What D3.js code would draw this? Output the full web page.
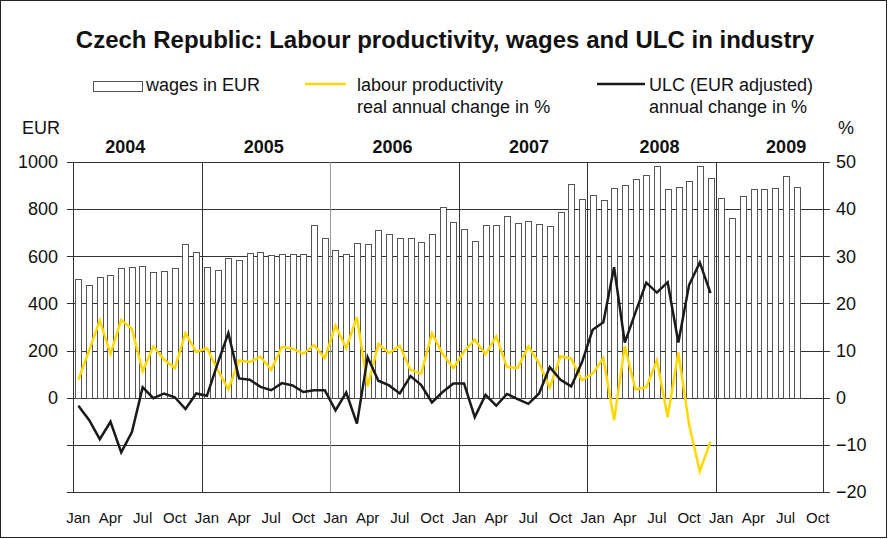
<!DOCTYPE html>
<html>
<head>
<meta charset="utf-8">
<script src="https://cdn.jsdelivr.net/npm/d3@7"></script>
<style>
	body { margin: 0; background: #ffffff; }
	svg text { font-family: Arial, "Liberation Sans", sans-serif; fill: #111111; }
</style>
</head>
<body>
<svg id="chart" width="888" height="539"></svg>
<script>

// ---- data ---------------------------------------------------------------

var g_vsYears = ["2004", "2005", "2006", "2007", "2008", "2009"];
var g_vsMonths = ["Jan", "Feb", "Mar", "Apr", "May", "Jun", "Jul", "Aug", "Sep", "Oct", "Nov", "Dec"];
var g_vsMonthTicks = ["Jan", "Apr", "Jul", "Oct"];

var g_nMonthCount = 70; // Jan 2004 .. Oct 2009

// wages in EUR, Jan 2004 ..
var g_vfWages = [
	502, 477, 511, 519, 549, 556, 560, 532, 539, 552, 651, 617,
	556, 543, 591, 583, 615, 618, 604, 608, 611, 611, 732, 676,
	628, 608, 655, 651, 710, 694, 676, 676, 659, 693, 809, 747,
	715, 665, 731, 731, 769, 741, 748, 738, 730, 789, 907, 845,
	859, 837, 889, 903, 926, 943, 985, 884, 892, 920, 985, 934,
	848, 761, 855, 884, 884, 889, 941, 892
];

// labour productivity, real annual change in %
var g_vfProductivity = [
	3.8, 10.0, 16.4, 9.3, 16.5, 14.6, 5.6, 10.9, 8.1, 6.3, 13.7, 9.7,
	10.5, 5.9, 1.8, 7.9, 7.6, 8.7, 5.9, 10.8, 10.4, 9.3, 11.2, 8.4,
	15.3, 10.5, 17.1, 2.4, 11.4, 9.5, 11.0, 5.9, 5.1, 13.7, 9.3, 6.3,
	9.8, 12.3, 9.2, 13.0, 6.5, 6.3, 10.9, 7.3, 2.2, 8.8, 8.3, 3.7,
	5.1, 8.4, -4.8, 10.9, 1.8, 2.2, 7.9, -4.1, 9.6, -5.7, -15.6, -9.3
];

// ULC (EUR adjusted), annual change in %
var g_vfULC = [
	-1.7, -4.7, -8.8, -5.1, -11.6, -7.3, 2.2, -0.1, 0.9, 0.1, -2.4, 0.9,
	0.4, 7.3, 13.7, 4.1, 3.8, 2.3, 1.6, 3.1, 2.6, 1.2, 1.6, 1.6,
	-2.7, 1.1, -5.5, 8.6, 3.6, 2.6, 0.9, 4.6, 2.7, -1.0, 1.2, 3.0,
	3.0, -4.1, 0.6, -1.7, 0.8, -0.3, -1.3, 0.9, 6.5, 3.8, 2.4, 7.5,
	14.4, 16.0, 27.7, 11.7, 18.1, 24.4, 22.3, 24.5, 11.7, 23.9, 28.7, 22.2
];

var g_vfLeftTicks = [0, 200, 400, 600, 800, 1000];
var g_vfRightTicks = [-20, -10, 0, 10, 20, 30, 40, 50];

// ---- layout -------------------------------------------------------------

var g_colorBarStroke = "#555555";
var g_colorGrid = "#333333";
var g_colorProductivity = "#FFD800";
var g_colorULC = "#1a1a1a";

var nLeft = 73, nRight = 823, nTop = 162, nBottom = 492;

var g_domSVGMain = d3.select("#chart");

var vnMonthIdx = d3.range(g_nMonthCount);

var funcScaleX = d3.scaleBand()
					.domain(vnMonthIdx)
					.range([nLeft, nRight])
					.paddingInner(0.45)
					.paddingOuter(0.2);

var funcScaleXStep = d3.scaleLinear()
					.domain([0, g_nMonthCount])
					.range([nLeft, nRight]);

var funcScaleEUR = d3.scaleLinear().domain([-400, 1000]).range([nBottom, nTop]);
var funcScalePct = d3.scaleLinear().domain([-20, 50]).range([nBottom, nTop]);

function funcMid(i) { return funcScaleXStep(i + 0.5); }

// ---- frame and title -------------------------------------------------------

g_domSVGMain.append("rect")
		.attr("x", 0.5).attr("y", 0.5)
		.attr("width", 886).attr("height", 537)
		.attr("fill", "none")
		.attr("stroke", "#222222")
		.attr("stroke-width", 1);

g_domSVGMain.append("text")
		.attr("x", 445)
		.attr("y", 48)
		.attr("text-anchor", "middle")
		.attr("font-size", "24px")
		.attr("font-weight", "bold")
		.text("Czech Republic: Labour productivity, wages and ULC in industry");

// ---- legend ---------------------------------------------------------------

var domLegend = g_domSVGMain.append("g").attr("font-size", "18px");

domLegend.append("rect")
		.attr("x", 93.5).attr("y", 81.5)
		.attr("width", 49).attr("height", 10)
		.attr("fill", "#ffffff")
		.attr("stroke", g_colorBarStroke);
domLegend.append("text").attr("x", 146).attr("y", 91).text("wages in EUR");

domLegend.append("line")
		.attr("x1", 305).attr("x2", 346).attr("y1", 84).attr("y2", 84)
		.attr("stroke", g_colorProductivity).attr("stroke-width", 2.5);
domLegend.append("text").attr("x", 357).attr("y", 91).text("labour productivity");
domLegend.append("text").attr("x", 357).attr("y", 113).text("real annual change in %");

domLegend.append("line")
		.attr("x1", 597).attr("x2", 645).attr("y1", 84).attr("y2", 84)
		.attr("stroke", g_colorULC).attr("stroke-width", 2.5);
domLegend.append("text").attr("x", 649).attr("y", 91).text("ULC (EUR adjusted)");
domLegend.append("text").attr("x", 649).attr("y", 113).text("annual change in %");

g_domSVGMain.append("text").attr("x", 22).attr("y", 134).attr("font-size", "18px").text("EUR");
g_domSVGMain.append("text").attr("x", 838).attr("y", 134).attr("font-size", "18px").text("%");

// ---- grid -----------------------------------------------------------------

g_domSVGMain.append("g")
		.selectAll("line.grid")
		.data(g_vfRightTicks)
		.enter()
		.append("line")
			.attr("class", "grid")
			.attr("x1", nLeft - 6)
			.attr("x2", nRight + 7)
			.attr("y1", function(d) { return Math.round(funcScalePct(d)) + 0.5; })
			.attr("y2", function(d) { return Math.round(funcScalePct(d)) + 0.5; })
			.attr("stroke", g_colorGrid)
			.attr("stroke-width", 1);

// ---- wage bars ----------------------------------------------------------

g_domSVGMain.append("g")
		.selectAll("rect.wage")
		.data(g_vfWages)
		.enter()
		.append("rect")
			.attr("class", "wage")
			.attr("x", function(d, i) { return Math.round(funcScaleX(i)) + 0.5; })
			.attr("y", function(d) { return Math.round(funcScaleEUR(d)) + 0.5; })
			.attr("width", Math.round(funcScaleX.bandwidth()))
			.attr("height", function(d) { return Math.round(funcScaleEUR(0)) - Math.round(funcScaleEUR(d)); })
			.attr("fill", "#ffffff")
			.attr("stroke", g_colorBarStroke)
			.attr("stroke-width", 1);

// ---- axes and year separators ---------------------------------------------

var vnYearStart = g_vsYears.map(function(d, i) { return i * 12; });

g_domSVGMain.append("g")
		.selectAll("line.year")
		.data(vnYearStart)
		.enter()
		.append("line")
			.attr("class", "year")
			.attr("x1", function(d) { return Math.round(funcScaleXStep(d)) + 0.5; })
			.attr("x2", function(d) { return Math.round(funcScaleXStep(d)) + 0.5; })
			.attr("y1", nTop)
			.attr("y2", nBottom)
			.attr("stroke", function(d, i) { return i == 2 ? "#9a9a9a" : g_colorGrid; })
			.attr("stroke-width", 1);

g_domSVGMain.append("line")
		.attr("x1", nRight + 0.5).attr("x2", nRight + 0.5)
		.attr("y1", nTop).attr("y2", nBottom)
		.attr("stroke", g_colorGrid);

var axisLeft = d3.axisLeft(funcScaleEUR)
					.tickValues(g_vfLeftTicks)
					.tickFormat(d3.format("d"))
					.tickSize(0)
					.tickPadding(15);

g_domSVGMain.append("g")
		.attr("transform", "translate(" + nLeft + ",0)")
		.call(axisLeft)
		.call(function(g) { g.select(".domain").remove(); })
		.selectAll("text")
			.attr("font-size", "18px")
			.attr("font-family", "Arial, 'Liberation Sans', sans-serif")
			.attr("fill", "#111111");

var axisRight = d3.axisRight(funcScalePct)
					.tickValues(g_vfRightTicks)
					.tickFormat(d3.format("d"))
					.tickSize(0)
					.tickPadding(13);

g_domSVGMain.append("g")
		.attr("transform", "translate(" + nRight + ",0)")
		.call(axisRight)
		.call(function(g) { g.select(".domain").remove(); })
		.selectAll("text")
			.attr("font-size", "18px")
			.attr("font-family", "Arial, 'Liberation Sans', sans-serif")
			.attr("fill", "#111111");

// month tick labels along the bottom
var vnMonthTickIdx = vnMonthIdx.filter(function(i) { return g_vsMonthTicks.includes(g_vsMonths[i % 12]); });

g_domSVGMain.append("g")
		.selectAll("text.month")
		.data(vnMonthTickIdx)
		.enter()
		.append("text")
			.attr("class", "month")
			.attr("x", function(i) { return funcMid(i); })
			.attr("y", 523)
			.attr("text-anchor", "middle")
			.attr("font-size", "15px")
			.text(function(i) { return g_vsMonths[i % 12]; });

// year labels above the plot (hand placed in the original, so nudged a bit)
var vnYearNudge = [-12, -2, -2, 6, 8, 6];

g_domSVGMain.append("g")
		.selectAll("text.year")
		.data(g_vsYears)
		.enter()
		.append("text")
			.attr("class", "year")
			.attr("x", function(d, i) { return funcScaleXStep(i * 12 + 6) + vnYearNudge[i]; })
			.attr("y", 153)
			.attr("text-anchor", "middle")
			.attr("font-size", "18px")
			.attr("font-weight", "bold")
			.text(function(d) { return d; });

// ---- lines ----------------------------------------------------------------

var funcLine = d3.line()
					.x(function(d, i) { return funcMid(i); })
					.y(function(d) { return funcScalePct(d); });

g_domSVGMain.append("path")
		.datum(g_vfProductivity)
		.attr("d", funcLine)
		.attr("fill", "none")
		.attr("stroke", g_colorProductivity)
		.attr("stroke-width", 2.5)
		.attr("stroke-linejoin", "miter");

g_domSVGMain.append("path")
		.datum(g_vfULC)
		.attr("d", funcLine)
		.attr("fill", "none")
		.attr("stroke", g_colorULC)
		.attr("stroke-width", 2.5)
		.attr("stroke-linejoin", "miter");

</script>
</body>
</html>
